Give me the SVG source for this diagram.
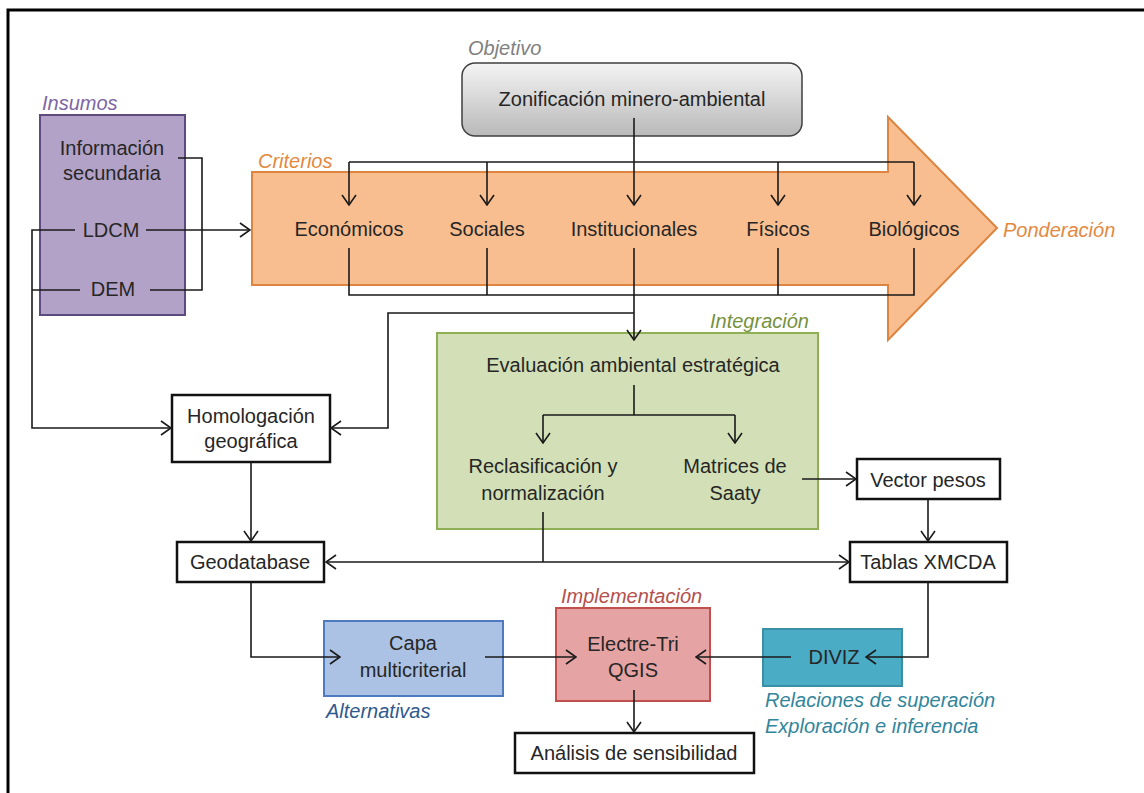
<svg xmlns="http://www.w3.org/2000/svg" width="1144" height="793" viewBox="0 0 1144 793">
<style>
  .t { font-family: "Liberation Sans", Arial, sans-serif; font-size: 20px; fill: #262626; text-anchor: middle; }
  .lab { font-family: "Liberation Sans", Arial, sans-serif; font-size: 20px; font-style: italic; }
  .wbox { fill: #ffffff; stroke: #111; stroke-width: 2.5; }
  .con { fill: none; stroke: #1a1a1a; stroke-width: 1.6; }
  .arr { marker-end: url(#ah); }
</style>
<defs>
  <marker id="ah" viewBox="0 0 12 16" refX="11" refY="8" markerWidth="12" markerHeight="16" markerUnits="userSpaceOnUse" orient="auto-start-reverse">
    <path d="M1,1 L11,8 L1,15" fill="none" stroke="#1a1a1a" stroke-width="1.6"/>
  </marker>
  <linearGradient id="gray" x1="0" y1="0" x2="0" y2="1">
    <stop offset="0" stop-color="#f4f4f4"/>
    <stop offset="1" stop-color="#b9b9b9"/>
  </linearGradient>
</defs>
<rect width="1144" height="793" fill="#ffffff"/>
<g id="frame">
  <path d="M8,793 V10 H1144" fill="none" stroke="#000" stroke-width="3"/>
</g>

<g id="criterios">
  <path d="M252,172 L888,172 L888,117 L997,228 L888,340 L888,285 L252,285 Z" fill="#f9be8f" stroke="#dc8440" stroke-width="2"/>
  <text class="lab" x="258" y="168" fill="#e3893f">Criterios</text>
  <text class="lab" x="1003" y="237" fill="#e3893f">Ponderación</text>
  <text class="t" x="349" y="236">Económicos</text>
  <text class="t" x="487" y="236">Sociales</text>
  <text class="t" x="634" y="236">Institucionales</text>
  <text class="t" x="778" y="236">Físicos</text>
  <text class="t" x="914" y="236">Biológicos</text>
</g>

<g id="insumos">
  <text class="lab" x="42" y="110" fill="#7d66a3">Insumos</text>
  <rect x="40" y="115" width="145" height="200" fill="#b3a2c7" stroke="#5e4a7e" stroke-width="2"/>
  <text class="t" x="112" y="155">Información</text>
  <text class="t" x="112" y="180">secundaria</text>
  <text class="t" x="111" y="237">LDCM</text>
  <text class="t" x="113" y="296">DEM</text>
</g>

<g id="objetivo">
  <text class="lab" x="468" y="55" fill="#7f7f7f">Objetivo</text>
  <rect x="462" y="63" width="340" height="73" rx="13" fill="url(#gray)" stroke="#3f3f3f" stroke-width="1.5"/>
  <text class="t" x="632" y="106">Zonificación minero-ambiental</text>
</g>

<g id="integracion">
  <text class="lab" x="710" y="328" fill="#76923c">Integración</text>
  <rect x="437" y="333" width="381" height="196" fill="#d3e0b7" stroke="#8faf55" stroke-width="2"/>
  <text class="t" x="633" y="372">Evaluación ambiental estratégica</text>
  <text class="t" x="543" y="473">Reclasificación y</text>
  <text class="t" x="543" y="500">normalización</text>
  <text class="t" x="735" y="473">Matrices de</text>
  <text class="t" x="735" y="500">Saaty</text>
</g>

<g id="homologacion">
  <rect class="wbox" x="172" y="395" width="158" height="67"/>
  <text class="t" x="251" y="423">Homologación</text>
  <text class="t" x="251" y="448">geográfica</text>
</g>

<g id="geodatabase">
  <rect class="wbox" x="177" y="542" width="147" height="40"/>
  <text class="t" x="250" y="569">Geodatabase</text>
</g>

<g id="vector">
  <rect class="wbox" x="857" y="459" width="143" height="40"/>
  <text class="t" x="928" y="487">Vector pesos</text>
</g>

<g id="tablas">
  <rect class="wbox" x="850" y="542" width="157" height="40"/>
  <text class="t" x="928" y="569">Tablas XMCDA</text>
</g>

<g id="capa">
  <rect x="324" y="621" width="179" height="75" fill="#abc2e4" stroke="#4f7abf" stroke-width="2"/>
  <text class="t" x="413" y="650">Capa</text>
  <text class="t" x="413" y="677">multicriterial</text>
  <text class="lab" x="326" y="718" fill="#2f5a8e">Alternativas</text>
</g>

<g id="electre">
  <text class="lab" x="561" y="603" fill="#b5504c">Implementación</text>
  <rect x="556" y="608" width="154" height="93" fill="#e5a3a3" stroke="#c0504d" stroke-width="2"/>
  <text class="t" x="633" y="651">Electre-Tri</text>
  <text class="t" x="633" y="677">QGIS</text>
</g>

<g id="diviz">
  <rect x="763" y="629" width="139" height="57" fill="#4bacc6" stroke="#3a8ea6" stroke-width="2"/>
  <text class="t" x="834" y="664">DIVIZ</text>
  <text class="lab" x="765" y="707" fill="#31859c">Relaciones de superación</text>
  <text class="lab" x="765" y="733" fill="#31859c">Exploración e inferencia</text>
</g>

<g id="analisis">
  <rect class="wbox" x="515" y="733" width="239" height="40"/>
  <text class="t" x="634" y="760">Análisis de sensibilidad</text>
</g>

<g id="connectors">
  <path class="con" d="M178,158 H202 V290 H150"/>
  <path class="con arr" d="M146,230 H250"/>
  <path class="con arr" d="M75,230 H32 V428 H171"/>
  <path class="con" d="M80,290 H32"/>
  <path class="con arr" d="M634,118 V205"/>
  <path class="con" d="M349,162 H914"/>
  <path class="con arr" d="M349,162 V205"/>
  <path class="con arr" d="M487,162 V205"/>
  <path class="con arr" d="M778,162 V205"/>
  <path class="con arr" d="M914,162 V205"/>
  <path class="con" d="M349,248 V295 H914 V248"/>
  <path class="con" d="M487,248 V295"/>
  <path class="con" d="M778,248 V295"/>
  <path class="con arr" d="M634,248 V340"/>
  <path class="con arr" d="M634,313 H388 V428 H331"/>
  <path class="con" d="M634,385 V415"/>
  <path class="con" d="M543,415 H735"/>
  <path class="con arr" d="M543,415 V443"/>
  <path class="con arr" d="M735,415 V443"/>
  <path class="con arr" d="M802,479 H856"/>
  <path class="con arr" d="M928,499 V541"/>
  <path class="con" d="M543,512 V562"/>
  <path class="con arr" d="M326,562 H849" marker-start="url(#ah)"/>
  <path class="con arr" d="M251,462 V541"/>
  <path class="con arr" d="M251,582 V657 H340"/>
  <path class="con arr" d="M485,657 H576"/>
  <path class="con arr" d="M928,582 V657 H866"/>
  <path class="con arr" d="M791,657 H696"/>
  <path class="con arr" d="M634,690 V732"/>
</g>
</svg>
